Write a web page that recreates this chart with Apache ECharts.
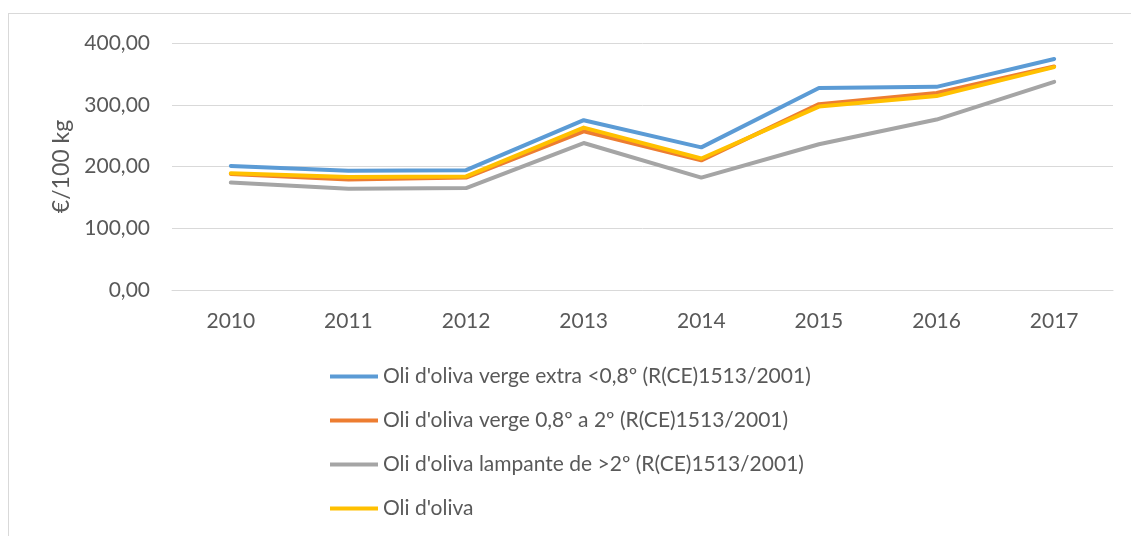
<!DOCTYPE html>
<html>
<head>
<meta charset="utf-8">
<script src="https://cdn.jsdelivr.net/npm/echarts@6/dist/echarts.min.js"></script>
<style>
  html, body { margin: 0; padding: 0; background: #fff; }
  #frame { position: absolute; left: 8px; top: 13px; width: 1140px; height: 540px; border: 1px solid #d9d9d9; box-sizing: border-box; }
  #chart { position: absolute; left: 0; top: 0; width: 1131px; height: 536px; }
</style>
</head>
<body>
<div id="frame"></div>
<div id="chart"></div>
<script>
  // 数据
  const years = ['2010', '2011', '2012', '2013', '2014', '2015', '2016', '2017'];
  const seriesNames = [
    "Oli d'oliva verge extra <0,8º (R(CE)1513/2001)",
    "Oli d'oliva verge 0,8º a 2º (R(CE)1513/2001)",
    "Oli d'oliva lampante de >2º (R(CE)1513/2001)",
    "Oli d'oliva"
  ];
  const extra = [201, 193, 194, 275, 231, 327, 329, 374];
  const verge = [188, 179, 182, 257, 210, 301, 319, 362];
  const lampante = [174, 164, 165, 238, 182, 236, 276, 337];
  const oliva = [189, 183, 184, 263, 213, 297, 314, 361];
  const colors = ['#5B9BD5', '#ED7D31', '#A5A5A5', '#FFC000'];

  const chart = echarts.init(document.getElementById('chart'));
  const font = 'Lato, "Liberation Sans", sans-serif';

  const makeSeries = (name, data, i) => ({
    name: name,
    type: 'line',
    data: data,
    symbol: 'none',
    lineStyle: { width: 4, color: colors[i], join: 'round', cap: 'round' },
    itemStyle: { color: colors[i] }
  });

  chart.setOption({
    animation: false,
    textStyle: { fontFamily: font },
    grid: { left: 172, right: 18, top: 43, height: 247 },
    legend: {
      orient: 'vertical',
      left: 325,
      top: 361,
      itemWidth: 48,
      itemHeight: 4,
      itemGap: 23,
      icon: 'rect',
      textStyle: { fontSize: 21, color: '#595959', fontFamily: font },
      data: seriesNames
    },
    xAxis: {
      type: 'category',
      data: years,
      boundaryGap: true,
      axisLine: { lineStyle: { color: '#d9d9d9', width: 1 } },
      axisTick: { show: false },
      axisLabel: { color: '#595959', fontSize: 21, margin: 21 }
    },
    yAxis: {
      type: 'value',
      min: 0,
      max: 400,
      interval: 100,
      name: '€/100 kg',
      nameLocation: 'middle',
      nameGap: 97,
      nameRotate: 90,
      nameTextStyle: { color: '#595959', fontSize: 23 },
      axisLine: { show: false },
      axisTick: { show: false },
      axisLabel: {
        color: '#595959',
        fontSize: 21,
        margin: 22,
        formatter: v => v.toFixed(2).replace('.', ',')
      },
      splitLine: { lineStyle: { color: '#d9d9d9', width: 1 } }
    },
    series: [
      makeSeries(seriesNames[0], extra, 0),
      makeSeries(seriesNames[1], verge, 1),
      makeSeries(seriesNames[2], lampante, 2),
      makeSeries(seriesNames[3], oliva, 3)
    ]
  });

  window.addEventListener('resize', () => chart.resize());
</script>
</body>
</html>
